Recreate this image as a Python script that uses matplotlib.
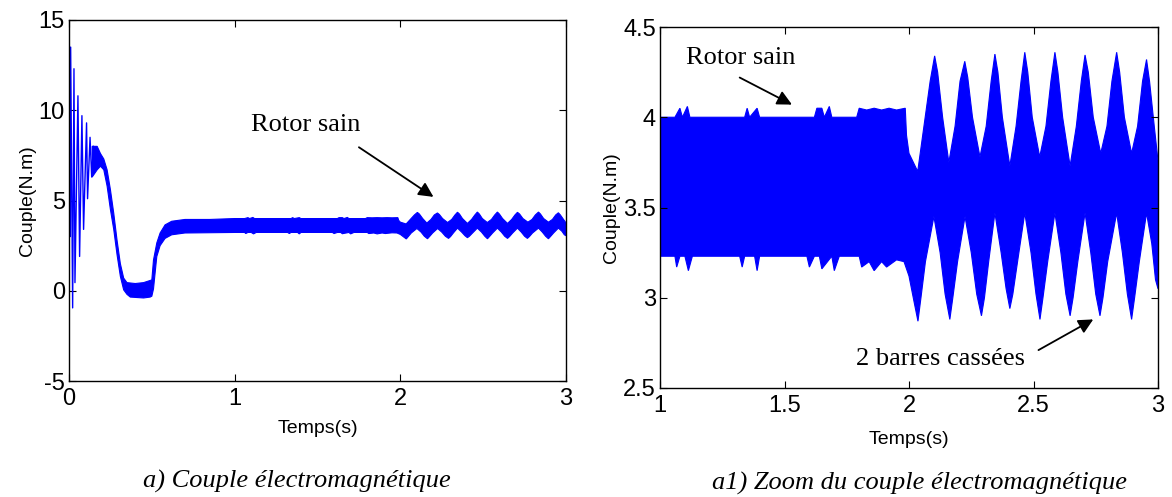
import numpy as np
import matplotlib
matplotlib.use("Agg")
import matplotlib.pyplot as plt

# start-up transient (peaks)
trans_t = [0.000, 0.004, 0.008, 0.010, 0.022, 0.030, 0.036, 0.054, 0.064, 0.078,
           0.088, 0.106, 0.112, 0.127, 0.137, 0.147]
trans_c = [3.4, 12.4, 3.0, 13.5, -0.95, 12.3, 0.45, 10.8, 1.9, 9.7,
           3.4, 9.3, 5.1, 8.5, 6.3, 8.0]

# upper envelope of the torque band
up_t = [0.14, 0.17, 0.19, 0.21, 0.23, 0.25, 0.27, 0.29, 0.31, 0.33, 0.35, 0.40, 0.45, 0.50,
        0.51, 0.53, 0.55, 0.58, 0.62, 0.70, 0.85, 1.00,
        1.06, 1.08, 1.09, 1.11, 1.12, 1.34, 1.35, 1.36, 1.39, 1.40, 1.62, 1.63, 1.65, 1.66,
        1.68, 1.69, 1.79, 1.80, 1.83, 1.86, 1.89, 1.92, 1.95, 1.985, 1.99, 2.00, 2.035,
        2.06, 2.085, 2.103, 2.115, 2.135, 2.16,
        2.185, 2.205, 2.224, 2.236, 2.255, 2.285,
        2.31, 2.33, 2.345, 2.357, 2.375, 2.405,
        2.43, 2.45, 2.465, 2.477, 2.495, 2.525,
        2.55, 2.57, 2.586, 2.598, 2.617, 2.647,
        2.672, 2.692, 2.707, 2.72, 2.74, 2.77,
        2.795, 2.815, 2.834, 2.846, 2.865, 2.894,
        2.918, 2.938, 2.954, 2.966, 2.985, 3.00]
up_c = [8.0, 8.0, 7.6, 7.3, 6.7, 5.6, 4.3, 2.8, 1.5, 0.7, 0.45, 0.4, 0.45, 0.6,
        1.7, 2.65, 3.2, 3.65, 3.85, 3.95, 3.95, 4.0,
        4.0, 4.05, 4.0, 4.06, 4.0, 4.0, 4.05, 4.0, 4.05, 4.0, 4.0, 4.05, 4.05, 4.0,
        4.06, 4.0, 4.0, 4.05, 4.04, 4.05, 4.04, 4.05, 4.04, 4.05, 3.9, 3.8, 3.7,
        3.95, 4.2, 4.34, 4.25, 4.0, 3.75,
        3.95, 4.2, 4.31, 4.22, 4.0, 3.78,
        3.95, 4.2, 4.35, 4.25, 4.0, 3.73,
        3.95, 4.2, 4.36, 4.25, 4.0, 3.78,
        3.95, 4.2, 4.36, 4.25, 4.0, 3.73,
        3.95, 4.2, 4.345, 4.25, 4.0, 3.8,
        3.95, 4.2, 4.36, 4.25, 4.0, 3.8,
        3.95, 4.2, 4.32, 4.2, 3.95, 3.76]

# lower envelope of the torque band
lo_t = [0.14, 0.17, 0.19, 0.21, 0.23, 0.25, 0.27, 0.29, 0.31, 0.33, 0.35, 0.37, 0.45, 0.49,
        0.50, 0.51, 0.53, 0.55, 0.58, 0.62, 0.70, 1.00,
        1.06, 1.067, 1.08, 1.10, 1.114, 1.13, 1.32, 1.33, 1.34, 1.38, 1.39, 1.40, 1.59, 1.60,
        1.62, 1.64, 1.65, 1.69, 1.70, 1.72, 1.80, 1.81, 1.84, 1.86, 1.89, 1.91, 1.95, 1.98,
        2.00, 2.02, 2.036, 2.048, 2.066, 2.10,
        2.125, 2.145, 2.164, 2.176, 2.195, 2.225,
        2.25, 2.272, 2.291, 2.303, 2.32, 2.345,
        2.37, 2.39, 2.405, 2.417, 2.436, 2.465,
        2.49, 2.51, 2.526, 2.538, 2.557, 2.586,
        2.61, 2.63, 2.647, 2.659, 2.678, 2.707,
        2.73, 2.75, 2.767, 2.779, 2.798, 2.834,
        2.857, 2.877, 2.894, 2.906, 2.925, 2.954,
        2.975, 2.99, 3.00]
lo_c = [6.3, 6.7, 6.9, 6.7, 5.8, 4.5, 3.4, 2.0, 0.8, 0.05, -0.2, -0.35, -0.4, -0.35,
        -0.3, 0.1, 1.9, 2.5, 2.9, 3.1, 3.2, 3.23,
        3.23, 3.17, 3.23, 3.23, 3.15, 3.23, 3.23, 3.17, 3.23, 3.23, 3.15, 3.23, 3.23, 3.17,
        3.23, 3.23, 3.16, 3.23, 3.15, 3.23, 3.23, 3.17, 3.2, 3.15, 3.2, 3.17, 3.21, 3.2,
        3.12, 2.98, 2.87, 3.0, 3.2, 3.45,
        3.25, 3.02, 2.88, 3.0, 3.2, 3.45,
        3.25, 3.02, 2.9, 3.0, 3.2, 3.47,
        3.25, 3.05, 2.94, 3.02, 3.2, 3.47,
        3.25, 3.02, 2.88, 3.0, 3.2, 3.47,
        3.25, 3.02, 2.9, 3.0, 3.2, 3.47,
        3.25, 3.02, 2.9, 3.0, 3.2, 3.47,
        3.25, 3.02, 2.88, 3.0, 3.2, 3.47,
        3.3, 3.1, 3.05]

blue = (0, 0, 1)
sans = "Liberation Sans"
serif = "Liberation Serif"

fig = plt.figure(figsize=(11.72, 4.97), dpi=100)
ax1 = fig.add_axes([69 / 1172, 116 / 497, 497 / 1172, 361 / 497])
ax2 = fig.add_axes([660 / 1172, 109 / 497, 498 / 1172, 361 / 497])

band_x = np.concatenate([up_t, lo_t[::-1]])
band_y = np.concatenate([up_c, lo_c[::-1]])

for ax in (ax1, ax2):
    ax.fill(band_x, band_y, color=blue, lw=0.8)
    ax.tick_params(direction="in", top=True, right=True, length=5, width=0.8,
                   labelsize=17)
    ax.tick_params(axis="x", pad=5)
    ax.tick_params(axis="y", pad=3)
    for s in ax.spines.values():
        s.set_linewidth(1.0)
    ax.set_ylabel("Couple(N.m)", fontsize=14, family=sans, labelpad=2)

ax1.set_xlabel("Temps(s)", fontsize=14, family=sans, labelpad=7)
ax2.set_xlabel("Temps(s)", fontsize=14, family=sans, labelpad=10)

ax1.plot(trans_t, trans_c, color=blue, lw=1.0)
ax1.set_xlim(0, 3)
ax1.set_ylim(-5, 15)
ax1.set_xticks([0, 1, 2, 3])
ax1.set_xticklabels(["0", "1", "2", "3"], family=sans)
ax1.set_yticks([-5, 0, 5, 10, 15])
ax1.set_yticklabels(["-5", "0", "5", "10", "15"], family=sans)

ax2.set_xlim(1, 3)
ax2.set_ylim(2.5, 4.5)
ax2.set_xticks([1, 1.5, 2, 2.5, 3])
ax2.set_xticklabels(["1", "1.5", "2", "2.5", "3"], family=sans)
ax2.set_yticks([2.5, 3, 3.5, 4, 4.5])
ax2.set_yticklabels(["2.5", "3", "3.5", "4", "4.5"], family=sans)

arrow = dict(arrowstyle="-|>", color="k", lw=1.3, mutation_scale=22, shrinkA=0, shrinkB=0)
ax1.annotate("", xy=(2.2, 5.2), xytext=(1.75, 7.95), arrowprops=arrow)
ax1.text(1.1, 9.2, "Rotor sain", fontsize=19, family=serif, va="center", ha="left")

ax2.annotate("", xy=(1.53, 4.07), xytext=(1.32, 4.22), arrowprops=arrow)
ax2.text(1.105, 4.33, "Rotor sain", fontsize=19, family=serif, va="center", ha="left")
ax2.annotate("", xy=(2.74, 2.88), xytext=(2.52, 2.71), arrowprops=arrow)
ax2.text(1.786, 2.66, "2 barres cassées", fontsize=19, family=serif, va="center", ha="left")

fig.text(297 / 1172, 1 - 481 / 497, "a) Couple électromagnétique", fontsize=19,
         family=serif, style="italic", ha="center", va="center")
fig.text(919 / 1172, 1 - 483 / 497, "a1) Zoom du couple électromagnétique", fontsize=19,
         family=serif, style="italic", ha="center", va="center")

fig.savefig("out.png", dpi=100)
